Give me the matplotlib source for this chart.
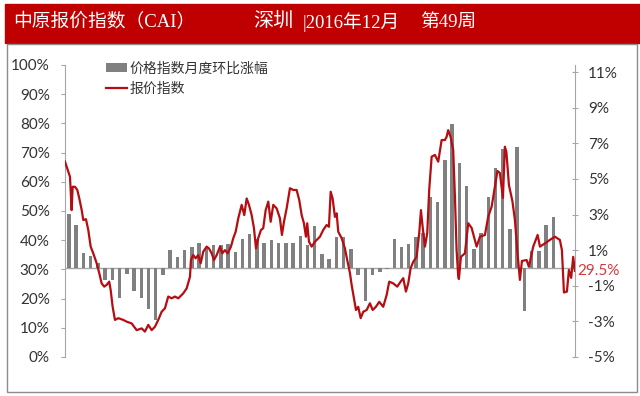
import matplotlib
matplotlib.use("Agg")
import matplotlib.pyplot as plt
from matplotlib.patches import Rectangle, Patch
from matplotlib.lines import Line2D
import numpy as np

# ---------------- data ----------------
# monthly change (%), right axis, one bar per month
bar_values = [3.05, 2.4, 0.84, 0.69, 0.27, -0.69, -0.69, -1.68, -0.34, -1.3,
              -1.68, -2.3, -2.9, -0.38, 1.0, 0.6, 1.0, 1.2, 1.43, 1.2,
              1.3, 1.3, 1.37, 0.88, 1.6, 1.89, 1.6, 1.4, 1.56, 1.43,
              1.43, 1.43, 1.79, 1.3, 2.36, 0.77, 0.5, 1.75, 1.75, 1.05,
              -0.4, -1.83, -0.4, -0.2, -0.07, 1.6, 1.2, 1.35, 1.75, 1.95,
              4.0, 3.68, 6.05, 8.1, 5.9, 4.6, 1.05, 1.94, 4.0, 5.6,
              6.7, 2.2, 6.8, -2.4, 0.95, 0.95, 2.44, 2.85]

# quoted-price index (%), left axis; time in months
line_time = [-0.55, -0.10, 0.14, 0.37, 0.51, 0.83, 1.15, 1.43, 1.76, 1.98,
             2.35, 2.67, 3.00, 3.36, 3.83, 4.19, 4.52, 4.88, 5.21, 5.57,
             5.77, 6.04, 6.36, 6.82, 7.51, 7.98, 8.67, 9.36, 10.06, 10.51,
             10.97, 11.44, 11.90, 12.35, 12.82, 13.28, 13.73, 14.21, 14.66, 15.12,
             15.81, 16.28, 16.74, 16.87, 17.19, 17.52, 17.88, 18.22, 18.58, 19.05,
             19.36, 19.74, 20.06, 20.43, 20.89, 21.20, 21.58, 21.95, 22.41, 22.73,
             23.06, 23.42, 23.89, 24.25, 24.58, 24.90, 25.27, 25.59, 25.87, 26.18,
             26.56, 26.87, 27.21, 27.57, 27.90, 28.26, 28.73, 29.18, 29.46, 29.74,
             30.11, 30.57, 31.02, 31.49, 31.85, 32.19, 32.50, 32.78, 32.96, 33.20,
             33.57, 34.03, 34.72, 35.17, 35.64, 35.96, 36.20, 36.47, 36.79, 37.03,
             37.25, 37.72, 38.17, 38.49, 38.87, 39.10, 39.42, 39.70, 40.01, 40.35,
             40.71, 41.18, 41.63, 42.01, 42.46, 42.92, 43.47, 43.94, 44.30, 44.86,
             45.41, 45.88, 46.24, 46.61, 46.93, 47.26, 47.62, 48.09, 48.45, 48.69,
             48.92, 49.24, 49.56, 49.83, 50.17, 50.62, 51.08, 51.55, 52.01, 52.24,
             52.46, 52.79, 53.15, 53.39, 53.62, 53.85, 53.94, 54.22, 54.77, 55.23,
             55.70, 56.39, 56.85, 57.54, 57.99, 58.47, 58.92, 59.27, 59.61, 60.03,
             60.30, 60.51, 60.86, 61.34, 61.69, 62.01, 62.38, 62.66, 63.31, 63.62,
             64.22, 64.83, 65.15, 65.84, 66.53, 67.22, 67.91, 68.19, 68.47, 68.88,
             69.16, 69.47, 69.75, 69.99]
line_values = [66.9, 63.5, 61.7, 50.3, 58.3, 58.3, 57.2, 54.3, 50.3, 46.9,
               47.2, 43.5, 37.8, 35.5, 32.1, 28.7, 25.2, 24.1, 24.7, 25.8,
               22.9, 17.2, 12.7, 13.3, 12.7, 12.1, 11.5, 9.2, 9.8, 8.7,
               11.0, 9.2, 10.4, 12.7, 15.5, 16.7, 20.7, 20.1, 20.7, 20.1,
               21.8, 23.5, 27.5, 33.2, 34.9, 33.8, 34.9, 32.1, 36.1, 37.8,
               37.2, 35.5, 33.2, 34.9, 37.8, 35.5, 36.6, 35.5, 37.8, 40.7,
               42.9, 47.5, 52.1, 48.6, 54.3, 52.1, 48.6, 44.1, 37.2, 40.7,
               43.5, 44.1, 50.3, 53.2, 46.3, 52.1, 50.9, 47.5, 41.8, 46.3,
               50.9, 57.8, 57.2, 57.2, 53.8, 48.6, 45.8, 41.2, 45.8, 39.5,
               37.8, 39.5, 41.2, 43.5, 45.2, 44.6, 56.6, 54.3, 48.0, 49.2,
               42.9, 40.7, 37.2, 33.2, 28.7, 24.7, 20.1, 16.1, 17.2, 13.3,
               15.5, 16.1, 18.4, 16.1, 17.2, 18.9, 17.2, 21.2, 25.8, 25.2,
               24.1, 25.8, 27.0, 22.4, 25.2, 30.4, 32.6, 34.3, 42.4, 50.3,
               44.6, 37.8, 42.4, 57.2, 68.6, 69.2, 66.9, 74.3, 74.3, 75.4,
               77.7, 75.4, 70.9, 54.9, 36.6, 27.5, 26.7, 34.3, 35.5, 45.8,
               44.2, 37.8, 41.2, 41.8, 48.0, 51.5, 58.3, 63.7, 63.0, 54.5,
               72.0, 70.2, 58.9, 53.4, 46.9, 36.6, 26.4, 32.9, 33.2, 30.9,
               37.8, 41.8, 37.8, 38.9, 40.1, 41.2, 40.1, 36.6, 22.1, 22.4,
               29.8, 27.1, 34.3, 29.5]

left_ticks = [0, 10, 20, 30, 40, 50, 60, 70, 80, 90, 100]
right_ticks = [-5, -3, -1, 1, 3, 5, 7, 9, 11]

title_main = "中原报价指数（CAI）"
title_city = "深圳"
title_date = "|2016年12月"
title_week = "第49周"
legend_bar = "价格指数月度环比涨幅"
legend_line = "报价指数"
last_label = "29.5%"

# ---------------- styling ----------------
RED = "#C00000"
LINE_RED = "#B50D12"
GRAY_BAR = "#808080"
AX_GRAY = "#A6A6A6"
TXT = "#333333"
cjk = ["Noto Sans CJK SC", "DejaVu Sans"]
serif_cjk = ["Liberation Serif", "Noto Sans CJK SC"]
tickfont = "Lato"

fig = plt.figure(figsize=(6.4, 3.96), dpi=100)

# title band
fig.patches.append(Rectangle((5 / 640, 1 - 43 / 396), 1, 39 / 396,
                             transform=fig.transFigure, color=RED, zorder=0))
# outer frame
fig.patches.append(Rectangle((7 / 640, 1 - 392 / 396), 630 / 640, 348 / 396,
                             transform=fig.transFigure, fill=False,
                             edgecolor="#8C8C8C", lw=1.0, zorder=0))

ty = 1 - 22 / 396
fig.text(13 / 640, ty, title_main, color="white", fontsize=13.5,
         family=serif_cjk, va="center", ha="left")
fig.text(253 / 640, ty, title_city, color="white", fontsize=14.5,
         family=serif_cjk, va="center", ha="left")
fig.text(303 / 640, ty, title_date, color="white", fontsize=13.5,
         family=serif_cjk, va="center", ha="left")
fig.text(420 / 640, ty, title_week, color="white", fontsize=13.5,
         family=serif_cjk, va="center", ha="left")

ax = fig.add_axes([65 / 640, 39 / 396, 510 / 640, 292 / 396])
ax2 = ax.twinx()

x_bars = np.arange(len(bar_values))
ax2.bar(x_bars, bar_values, width=0.48, color=GRAY_BAR, zorder=2)
ax2.axhline(0, color=AX_GRAY, lw=1.0, zorder=1)
ax2.set_ylim(-5, 11.4)
ax2.set_yticks(right_ticks)
ax2.set_yticklabels([f"{t}%" for t in right_ticks])

ax.plot(line_time, line_values, color=LINE_RED, lw=1.6, zorder=3,
        solid_joinstyle="round")
ax.set_ylim(0, 100)
ax.set_yticks(left_ticks)
ax.set_yticklabels([f"{t}%" for t in left_ticks])
ax.set_xlim(-0.55, 70.0)
ax.set_xticks([])

ax.set_zorder(ax2.get_zorder() + 1)
ax.patch.set_visible(False)

for a in (ax, ax2):
    for s in ("top", "bottom"):
        a.spines[s].set_visible(False)
    a.spines["left"].set_color(AX_GRAY)
    a.spines["right"].set_color(AX_GRAY)
    a.tick_params(axis="y", colors=AX_GRAY, labelcolor=TXT, length=3,
                  width=0.8, labelsize=11)
    for lab in a.get_yticklabels():
        lab.set_family(tickfont)
ax.tick_params(axis="y", direction="out", pad=8)
ax2.tick_params(axis="y", direction="inout", length=5, pad=7)
ax2.spines["left"].set_visible(False)
ax.spines["right"].set_visible(False)

# end value label
ax.annotate(last_label, xy=(1.0, line_values[-1]),
            xycoords=("axes fraction", "data"), xytext=(2, 0),
            textcoords="offset points", color="#D2383C", fontsize=11,
            family=tickfont, va="center", ha="left", zorder=5)

handles = [Patch(facecolor=GRAY_BAR, edgecolor="none"),
           Line2D([0], [0], color=LINE_RED, lw=1.6)]
leg = ax.legend(handles, [legend_bar, legend_line], loc="upper left",
                bbox_to_anchor=(0.07, 1.03), frameon=False,
                prop={"family": cjk, "size": 10}, handlelength=1.5,
                handleheight=0.6, handletextpad=0.2, labelspacing=0.45,
                borderaxespad=0)
for t in leg.get_texts():
    t.set_color(TXT)

fig.savefig("out.png", dpi=100)
